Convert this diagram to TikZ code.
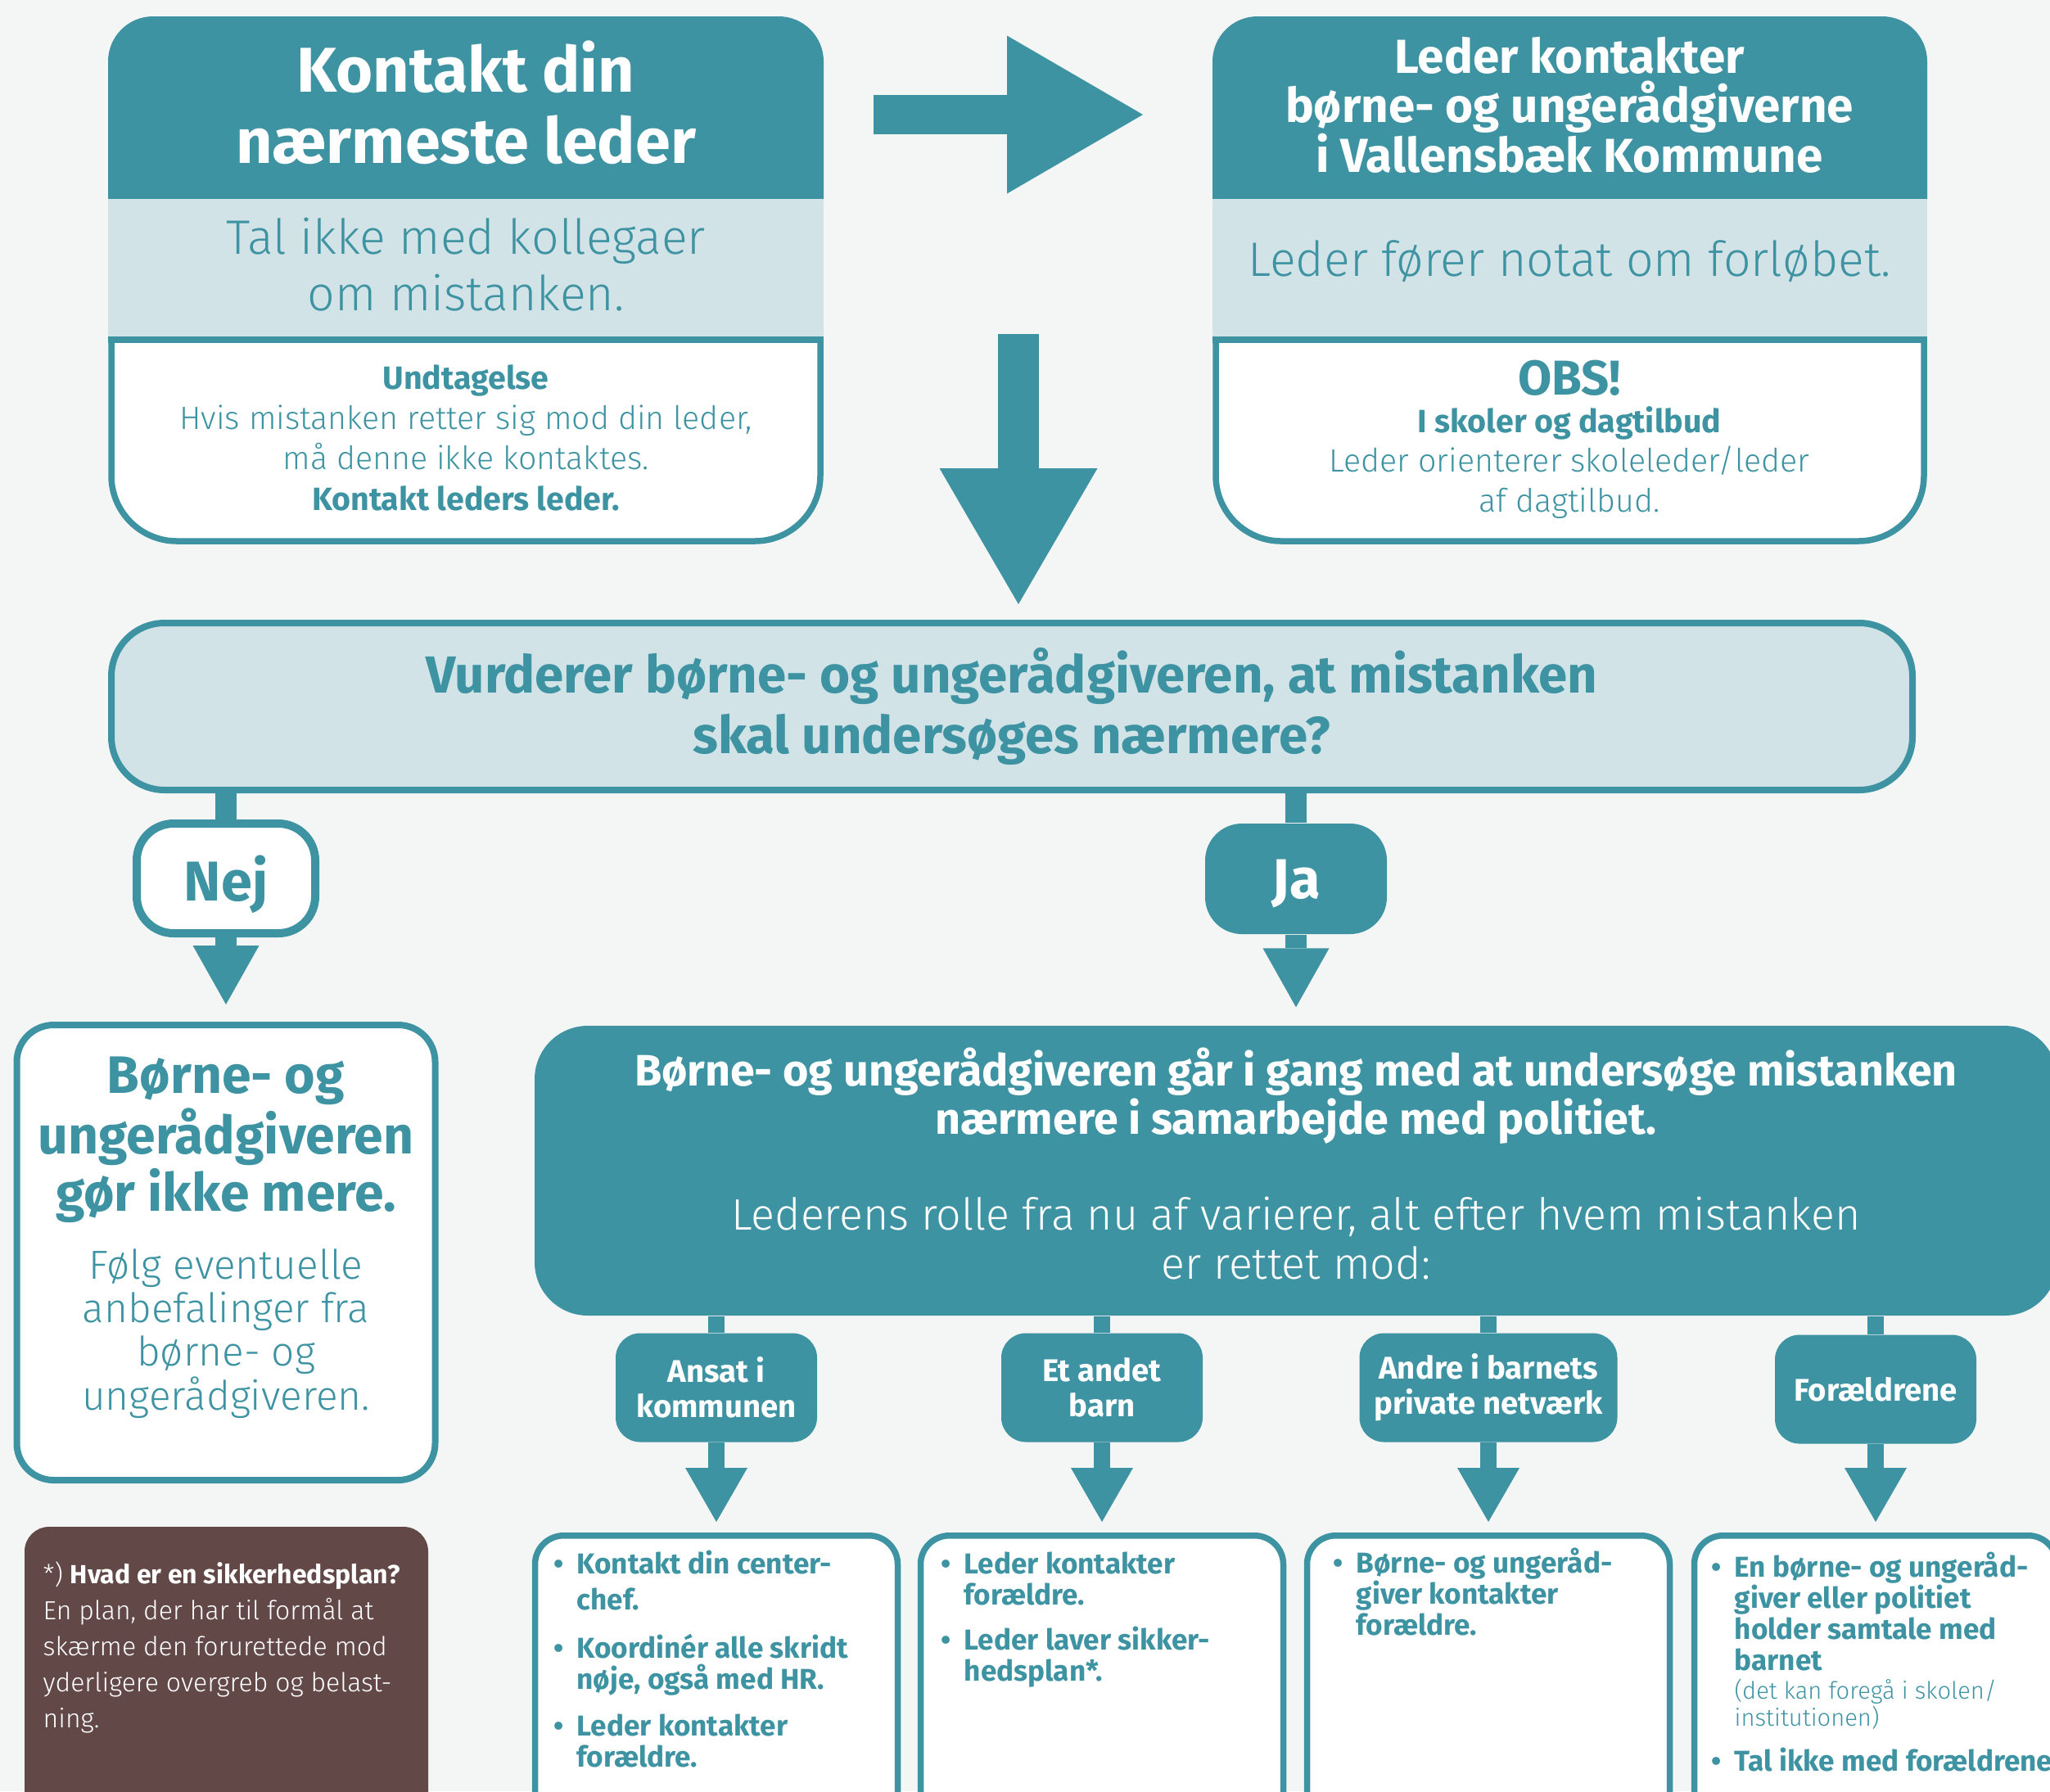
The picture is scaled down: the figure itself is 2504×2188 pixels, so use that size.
\documentclass[tikz,border=0pt]{standalone}
\usepackage{fontspec}
\setmainfont{Fira Sans}
\IfFontExistsTF{Fira Sans Light}
  {\newfontfamily\lightfont{Fira Sans Light}[BoldFont={Fira Sans Bold}]}
  {\newfontfamily\lightfont{Fira Sans}}
\usetikzlibrary{arrows.meta,positioning}

\definecolor{petrol}{HTML}{3E93A3}
\definecolor{lys}{HTML}{D1E3E6}
\definecolor{bund}{HTML}{F4F6F5}
\definecolor{brun}{HTML}{634848}

\newcommand{\fsz}[2]{\fontsize{#1pt}{#2pt}\selectfont}
\newcommand{\punkt}{\llap{•\hspace{1.6mm}}}

\tikzset{
  kant/.style={draw=petrol, line width=0.75mm},
  stamme/.style={draw=petrol, line width=2.6mm},
  nedpil/.style={stamme, -{Triangle[width=8.1mm,length=7.2mm,line width=0pt]}},
  lillestamme/.style={draw=petrol, line width=2mm},
  lillepil/.style={lillestamme, -{Triangle[width=7.6mm,length=6.6mm,line width=0pt]}},
  blokpil/.style={draw=petrol, line width=#1, -{Triangle[width=19.3mm,length=16.6mm,line width=0pt]}},
  svar/.style={rounded corners=4.5mm, minimum width=21.8mm, minimum height=13.4mm,
    inner sep=0pt, text depth=0pt, font=\bfseries\fsz{19.5}{22}},
  gruppe/.style={fill=petrol, text=white, rounded corners=3mm, minimum width=24.6mm,
    minimum height=13.3mm, inner sep=0pt, align=center, font=\bfseries\fsz{10.9}{12.2}},
  tiltag/.style={kant, fill=white, rounded corners=3.5mm, minimum width=44.3mm,
    minimum height=40mm, anchor=north, inner sep=0pt},
  tekst/.style={inner sep=0pt, anchor=base, align=center},
  punkter/.style={text=petrol, align=left, anchor=base west, inner sep=0pt,
    font=\bfseries\fsz{10}{10.8}}
}

\begin{document}
\begin{tikzpicture}[x=0.1mm, y=-0.1mm]
\useasboundingbox[fill=bund] (0,0) rectangle (2504,2188);

% the two top boxes: header, band and white part
\foreach \xa/\xb in {132/1006, 1481/2354} {
  \begin{scope}
    \clip (\xa-10,0) rectangle (\xb+10,243);
    \fill[petrol, rounded corners=5.5mm] (\xa,20) rectangle (\xb,400);
  \end{scope}
  \fill[lys] (\xa,243) rectangle (\xb,415);
  \begin{scope}
    \clip (\xa-10,415) rectangle (\xb+10,700);
    \draw[kant, fill=white, rounded corners=8mm] (\xa+4,300) rectangle (\xb-4,661);
  \end{scope}
  \draw[kant] (\xa,415) -- (\xb,415);
}

% texts are placed at the baseline of their last line
\node[tekst, text=white, font=\bfseries\fsz{22}{24.75}] (kontakt) at (569,199)
  {Kontakt din\\nærmeste leder};
\node[tekst, text=petrol, font=\lightfont\fsz{16.8}{19.6}] (kollegaer) at (569,379)
  {Tal ikke med kollegaer\\om mistanken.};
\node[tekst, text=petrol, font=\lightfont\fsz{11.2}{14}] (undtagelse) at (569,623)
  {\textbf{Undtagelse}\\Hvis mistanken retter sig mod din leder,\\må denne ikke kontaktes.\\\textbf{Kontakt leders leder.}};

\node[tekst, text=white, font=\bfseries\fsz{16.6}{17.2}] (leder) at (1917,210)
  {Leder kontakter\\børne- og ungerådgiverne\\i Vallensbæk Kommune};
\node[tekst, text=petrol, font=\lightfont\fsz{16.8}{19.6}] (notat) at (1917,337)
  {Leder fører notat om forløbet.};
\node[tekst, text=petrol, font=\bfseries\fsz{17}{18}] (obs) at (1917,482) {OBS!};
\node[tekst, text=petrol, font=\lightfont\fsz{11.2}{13.7}] (skoler) at (1917,625)
  {\textbf{I skoler og dagtilbud}\\Leder orienterer skoleleder/leder\\af dagtilbud.};

% block arrows
\coordinate (pilA) at (1067,140);
\coordinate (pilB) at (1396,140);
\coordinate (pilC) at (1244,408);
\coordinate (pilD) at (1244,738);
\draw[blokpil=4.8mm] (pilA) -- (pilB);
\draw[blokpil=5mm] (pilC) -- (pilD);

% question
\node[kant, line width=0.8mm, fill=lys, rounded corners=6.5mm, minimum width=220mm,
  minimum height=20.4mm, text=petrol, align=center, font=\bfseries\fsz{18.1}{21}]
  (vurder) at (1236,863) {Vurderer børne- og ungerådgiveren, at mistanken\\skal undersøges nærmere?};

\node[svar, kant, line width=1mm, fill=white, text=petrol] (nej) at (276,1073) {Nej};
\node[svar, fill=petrol, text=white, minimum width=22.2mm, minimum height=13.5mm] (ja) at (1583,1073.5) {Ja};

% Nej branch
\node[kant, line width=0.8mm, fill=white, rounded corners=4.5mm, minimum width=51.1mm,
  minimum height=55.6mm] (stop) at (276,1530) {};
\node[tekst, text=petrol, font=\bfseries\fsz{18.3}{18.8}] (stoptekst) at (276,1479)
  {Børne- og\\ungerådgiveren\\gør ikke mere.};
\node[tekst, text=petrol, font=\lightfont\fsz{14.1}{15.1}] (stopraad) at (276,1722)
  {Følg eventuelle\\anbefalinger fra\\børne- og\\ungerådgiveren.};

\draw[stamme] (vurder.south -| nej.north) -- (nej.north);
\draw[nedpil] (nej.south) -- ([yshift=2.1mm]stop.north);

% Ja branch
\node[fill=petrol, rounded corners=6.5mm, minimum width=186mm, minimum height=35.4mm,
  inner sep=0pt] (undersog) at (1583,1430) {};
\node[tekst, text=white, font=\bfseries\fsz{15.3}{16.6}] (undersogtekst) at (1583,1385)
  {Børne- og ungerådgiveren går i gang med at undersøge mistanken\\nærmere i samarbejde med politiet.};
\node[tekst, text=white, font=\lightfont\fsz{15.3}{16.9}] (rolle) at (1583,1562)
  {Lederens rolle fra nu af varierer, alt efter hvem mistanken\\er rettet mod:};

\draw[stamme] (vurder.south -| ja.north) -- (ja.north);
\draw[nedpil] (ja.south) -- ([yshift=2.2mm]undersog.north -| ja.south);

% who the suspicion concerns
\node[gruppe] (ansat) at (875,1695) {Ansat i\\kommunen};
\node[gruppe] (barn) at (1346,1695) {Et andet\\barn};
\node[gruppe, minimum width=31.5mm] (netvaerk) at (1818,1695) {Andre i barnets\\private netværk};
\node[gruppe] (foraeldre) at (2291,1697) {Forældrene};

\node[tiltag] (t1) at (875,1872) {};
\node[tiltag] (t2) at (1346,1872) {};
\node[tiltag] (t3) at (1818,1872) {};
\node[tiltag] (t4) at (2291,1872) {};

\foreach \g/\t in {ansat/t1, barn/t2, netvaerk/t3, foraeldre/t4} {
  \draw[lillestamme] (undersog.south -| \g.north) -- (\g.north);
  \draw[lillepil] (\g.south) -- ([yshift=1.3mm]\t.north);
}

\node[punkter] (p1) at (704,2158)
  {\punkt Kontakt din center-\\[1.7pt]chef.\\[6pt]\punkt Koordinér alle skridt\\nøje, også med HR.\\[5.4pt]\punkt Leder kontakter\\forældre.};
\node[punkter] (p2) at (1177,2053)
  {\punkt Leder kontakter\\forældre.\\[4.8pt]\punkt Leder laver sikker-\\hedsplan*.};
\node[punkter] (p3) at (1656,1997)
  {\punkt Børne- og ungeråd-\\giver kontakter\\forældre.};
\node[punkter] (p4) at (2118,2040)
  {\punkt En børne- og ungeråd-\\giver eller politiet\\holder samtale med\\barnet};
\node[punkter, font=\lightfont\fsz{8.3}{9.4}] (p4b) at (2118,2108)
  {(det kan foregå i skolen/\\institutionen)};
\node[punkter] (p4c) at (2118,2163) {\punkt Tal ikke med forældrene};

% footnote
\fill[brun, rounded corners=3mm] (30,1865) rectangle (523,2260);
\node[punkter, text=white, font=\lightfont\fsz{9.1}{12.5}] (fodnote) at (52,2110)
  {*) \textbf{Hvad er en sikkerhedsplan?}\\En plan, der har til formål at\\skærme den forurettede mod\\yderligere overgreb og belast-\\ning.};
\end{tikzpicture}
\end{document}
